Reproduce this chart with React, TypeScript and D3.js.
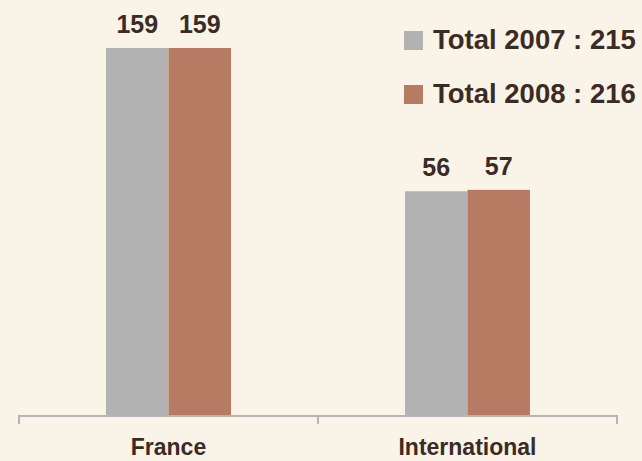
import { useEffect } from 'react';
import * as d3 from 'd3';

const categories = ['France', 'International'];
const years = ['2007', '2008'];
const values2007 = [159, 56];
const values2008 = [159, 57];
const totals = [215, 216];

const COLORS = ['#B2B2B2', '#B77A62'];
const BG = '#FAF3E8';
const TEXT = '#3B2B25';
const FONT = 'Arial, "Liberation Sans", sans-serif';

const W = 642;
const H = 461;
const BASE_Y = 416;

export default function App() {
  useEffect(() => {
    document.body.style.margin = '0';
    document.body.style.background = BG;
  }, []);

  const x = d3.scaleBand<string>().domain(categories).range([19, 617]).padding(0);
  // the source chart is not drawn from zero, so the value axis starts below it
  const y = d3.scaleLinear().domain([-105.6, 159]).range([BASE_Y, 48]);
  const groupHalf = 62.5;
  const series = [values2007, values2008];

  const ticks = [...categories.map(c => x(c) ?? 0), (x(categories[categories.length - 1]) ?? 0) + x.bandwidth()];

  return (
    <svg width={W} height={H} style={{ display: 'block', background: BG, fontFamily: FONT }}>
      <rect width={W} height={H} fill={BG} />
      {categories.map((cat, ci) => {
        const cx = (x(cat) ?? 0) + x.bandwidth() / 2;
        const sub = d3.scaleBand<string>().domain(years).range([cx - groupHalf, cx + groupHalf]);
        return (
          <g key={cat}>
            {years.map((yr, si) => {
              const v = series[si][ci];
              const bx = sub(yr) ?? 0;
              return (
                <g key={yr}>
                  <rect x={bx} y={y(v)} width={sub.bandwidth()} height={BASE_Y - y(v)} fill={COLORS[si]} />
                  <text x={bx + sub.bandwidth() / 2} y={y(v) - 15} textAnchor="middle" fontSize={25} fontWeight="bold" fill={TEXT}>
                    {v}
                  </text>
                </g>
              );
            })}
            <text x={cx} y={455} textAnchor="middle" fontSize={23} fontWeight="bold" fill={TEXT}>
              {cat}
            </text>
          </g>
        );
      })}

      {/* category axis */}
      <line x1={ticks[0]} x2={ticks[ticks.length - 1]} y1={BASE_Y} y2={BASE_Y} stroke="#B5B5B5" strokeWidth={2} />
      {ticks.map((t, i) => (
        <line key={i} x1={t} x2={t} y1={BASE_Y - 1} y2={424} stroke="#B5B5B5" strokeWidth={2} />
      ))}

      {/* legend */}
      {years.map((yr, i) => (
        <g key={yr} transform={`translate(404,${31 + i * 54})`}>
          <rect width={19} height={19} fill={COLORS[i]} />
          <text x={29} y={18} fontSize={27.5} fontWeight="bold" fill={TEXT}>
            {`Total ${yr} : ${totals[i]}`}
          </text>
        </g>
      ))}
    </svg>
  );
}
